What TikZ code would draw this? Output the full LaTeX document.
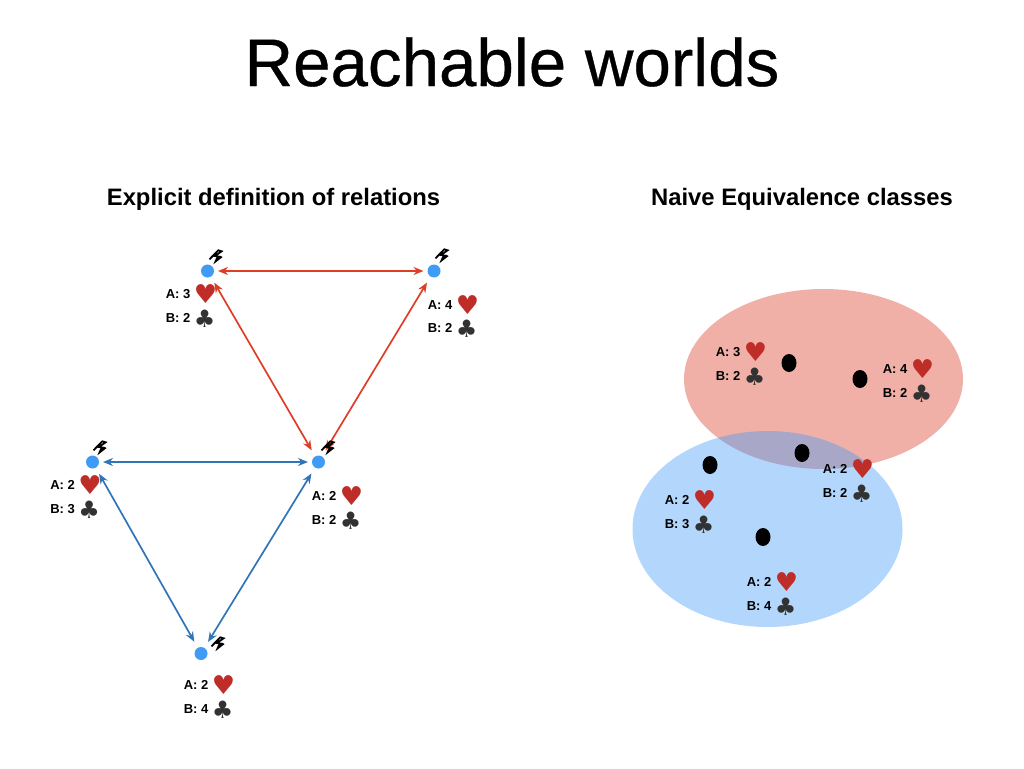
\documentclass[tikz,border=0pt]{standalone}
\usepackage{fontspec}
\usetikzlibrary{shapes.geometric,arrows.meta}
\setmainfont{Liberation Sans}
\newfontfamily\titlefont[FakeBold=0.5]{Liberation Sans}
\newfontfamily\symbolfont{DejaVu Sans}
\definecolor{arrowred}{RGB}{222,62,38}
\definecolor{arrowblue}{RGB}{47,117,184}
\definecolor{dotblue}{RGB}{63,155,245}
\definecolor{fillred}{RGB}{217,57,37}
\definecolor{fillblue}{RGB}{65,155,247}
\definecolor{heartred}{RGB}{190,45,40}
\definecolor{clubgray}{RGB}{50,50,50}
\newcommand{\hearts}{\raisebox{-5pt}[0pt][0pt]{\symbolfont\fontsize{26}{26}\selectfont\textcolor{heartred}{♥}}}
\newcommand{\clubs}{\raisebox{-5pt}[0pt][0pt]{\symbolfont\fontsize{24}{24}\selectfont\textcolor{clubgray}{♣}}}
\tikzset{
    world/.style={circle,fill=dotblue,minimum size=13pt,inner sep=0pt,outer sep=4pt},
    member/.style={ellipse,fill=black,minimum width=15pt,minimum height=18pt,inner sep=0pt},
    cards/.style={font=\bfseries\fontsize{13}{23.5}\selectfont,align=left,inner sep=0pt,xshift=1.5pt},
    heading/.style={font=\bfseries\fontsize{23.8}{28}\selectfont},
    redlink/.style={{Stealth[length=10pt,width=8pt]}-{Stealth[length=10pt,width=8pt]},draw=arrowred,line width=1.7pt},
    bluelink/.style={{Stealth[length=10pt,width=8pt]}-{Stealth[length=10pt,width=8pt]},draw=arrowblue,line width=1.7pt},
    slanted/.style={shorten >=3pt,shorten <=3pt},
    scrawl/.pic={
        \draw[line width=1.8pt] (-6.5,2.3) -- (2.3,-6.7) -- (5.6,-5.7) -- (-1,-1) -- (5.6,0);
        \fill (-2.7,7.3) -- (6.7,0) -- (0.7,-0.5) -- cycle;
    }
}
\begin{document}
\begin{tikzpicture}[x=1pt,y=-1pt]
    \useasboundingbox (0,0) rectangle (1024,768);
    % Headings
    \node[font=\titlefont\fontsize{67.3}{72}\selectfont] (title) at (512,62) {Reachable worlds};
    \node[heading] (lefthead) at (273.5,199) {Explicit definition of relations};
    \node[heading] (righthead) at (802,199) {Naive Equivalence classes};
    % Left graph
    \node[world] (w32) at (207.5,271) {};
    \node[world] (w42) at (434,271) {};
    \node[world] (w22) at (318.5,462) {};
    \node[world] (w23) at (92.5,462) {};
    \node[world] (w24) at (201,653.5) {};
    \draw[redlink] (w32) -- (w42);
    \draw[redlink,slanted] (w32) -- (w22);
    \draw[redlink,slanted] (w42) -- (w22);
    \draw[bluelink] (w23) -- (w22);
    \draw[bluelink,slanted] (w23) -- (w24);
    \draw[bluelink,slanted] (w22) -- (w24);
    \pic at (216,257) {scrawl};
    \pic at (442,256) {scrawl};
    \pic at (328,448) {scrawl};
    \pic at (100,448) {scrawl};
    \pic at (218,644) {scrawl};
    \node[cards] (c32) at (190,306) {A: 3 \hearts\\B: 2 \clubs};
    \node[cards] (c42) at (452,316.5) {A: 4 \hearts\\B: 2 \clubs};
    \node[cards] (c22) at (336,508) {A: 2 \hearts\\B: 2 \clubs};
    \node[cards] (c23) at (74.5,497) {A: 2 \hearts\\B: 3 \clubs};
    \node[cards] (c24) at (208,697) {A: 2 \hearts\\B: 4 \clubs};
    % Right classes
    \node[ellipse,fill=fillred,fill opacity=0.4,minimum width=279pt,minimum height=180pt,inner sep=0pt] (redclass) at (823.5,379) {};
    \node[ellipse,fill=fillblue,fill opacity=0.4,minimum width=270pt,minimum height=196pt,inner sep=0pt] (blueclass) at (767.5,529) {};
    \node[member] (m32) at (789,363) {};
    \node[member] (m42) at (860,379) {};
    \node[member] (m22) at (802,453) {};
    \node[member] (m23) at (710,465) {};
    \node[member] (m24) at (763,537) {};
    \node[cards] (d32) at (740,364) {A: 3 \hearts\\B: 2 \clubs};
    \node[cards] (d42) at (907,381) {A: 4 \hearts\\B: 2 \clubs};
    \node[cards] (d22) at (847,481) {A: 2 \hearts\\B: 2 \clubs};
    \node[cards] (d23) at (689,512) {A: 2 \hearts\\B: 3 \clubs};
    \node[cards] (d24) at (771,594) {A: 2 \hearts\\B: 4 \clubs};
\end{tikzpicture}
\end{document}
